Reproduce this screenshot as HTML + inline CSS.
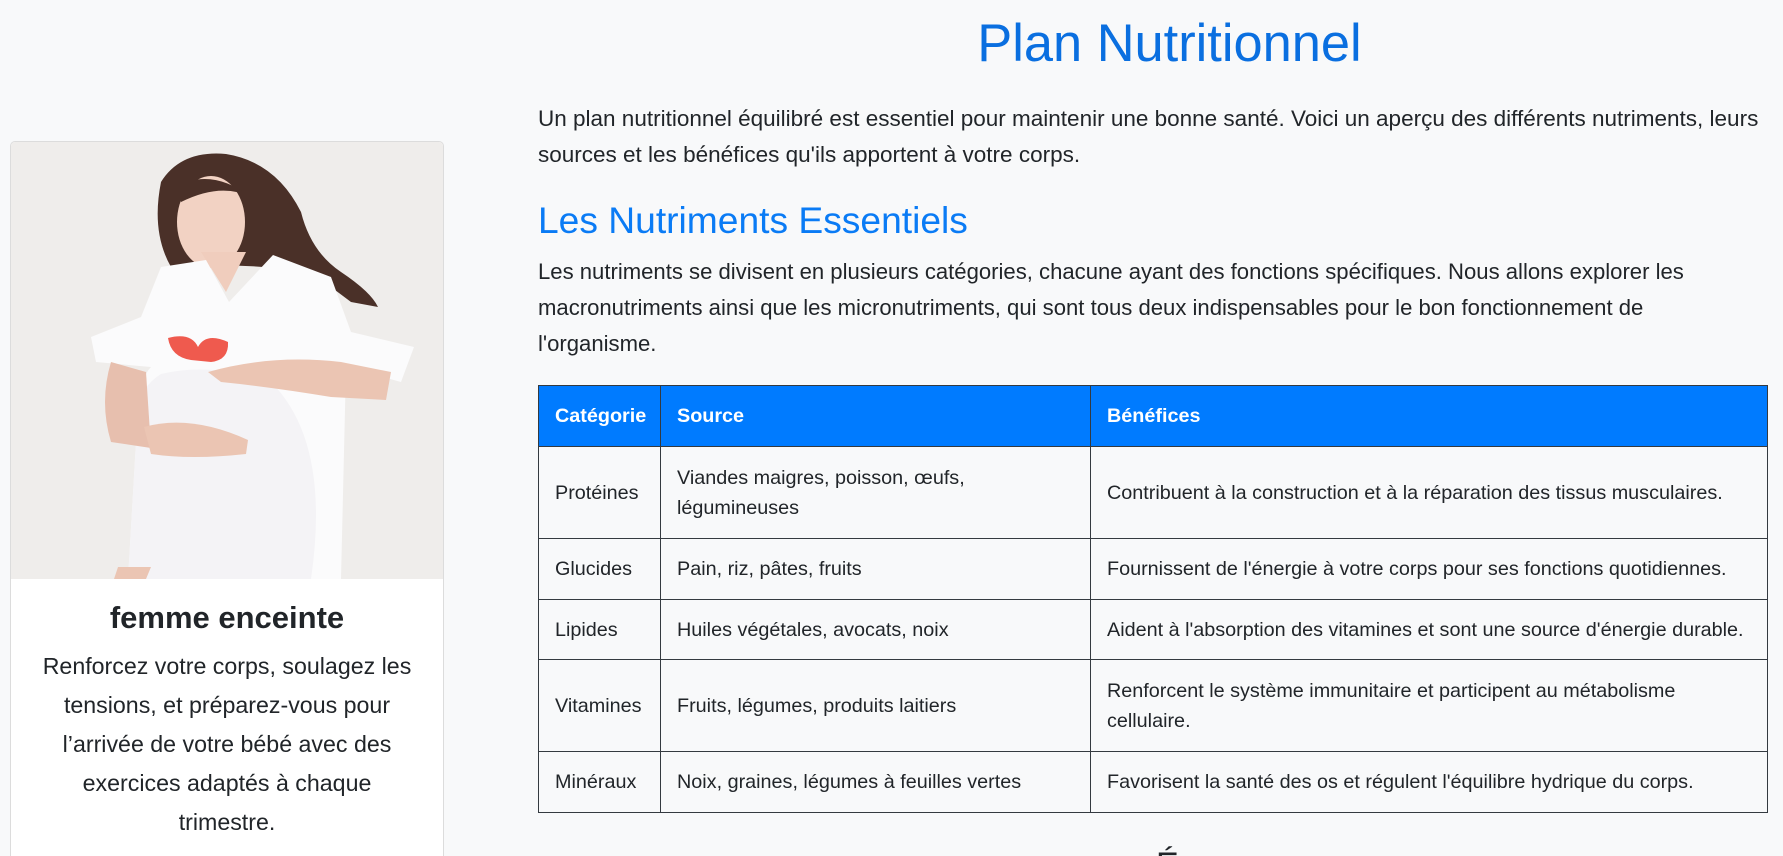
<!DOCTYPE html>
<html><head><meta charset="utf-8">
<style>
html,body{margin:0;padding:0;background:#f8f9fa;width:1783px;height:856px;overflow:hidden;font-family:"Liberation Sans",sans-serif;color:#212529}
#root{position:relative;width:1783px;height:856px;overflow:hidden}
.abs{position:absolute;white-space:nowrap}
h1{position:absolute;margin:0;left:0;width:1783px;top:14px;padding-left:556px;box-sizing:border-box;text-align:center;font-size:52.4px;font-weight:normal;color:#0a6fe0;line-height:60px}
.p{line-height:36px;left:538px}
h2{position:absolute;margin:0;left:538px;top:199px;font-size:37.2px;font-weight:normal;color:#0a7bf5;line-height:42px}
.card{position:absolute;left:10px;top:141px;width:432px;height:730px;background:#fff;border:1px solid #dcdcdc;border-radius:5px;overflow:hidden}
.card .t{position:absolute;left:0;width:432px;text-align:center;white-space:nowrap}
table{position:absolute;left:538px;top:385px;width:1230px;border-collapse:collapse;font-size:19.8px}
td,th{border:1.5px solid #343a40;padding:0 0 0 16px;text-align:left;vertical-align:middle;line-height:30px;white-space:nowrap}
th{background:#007bff;color:#fff;font-weight:bold}
</style></head><body>
<div id="root">
<h1>Plan Nutritionnel</h1>
<div class="abs p" style="top:101px;font-size:22.5px">Un plan nutritionnel équilibré est essentiel pour maintenir une bonne santé. Voici un aperçu des différents nutriments, leurs<br>sources et les bénéfices qu'ils apportent à votre corps.</div>
<h2>Les Nutriments Essentiels</h2>
<div class="abs p" style="top:254px;font-size:22.1px">Les nutriments se divisent en plusieurs catégories, chacune ayant des fonctions spécifiques. Nous allons explorer les<br>macronutriments ainsi que les micronutriments, qui sont tous deux indispensables pour le bon fonctionnement de<br>l'organisme.</div>

<div class="card">
<svg width="432" height="437" viewBox="0 0 432 437">
<rect width="432" height="437" fill="#efedeb"/>
<path d="M150 40 Q170 8 215 12 Q265 20 290 70 Q300 110 330 130 Q360 150 367 165 L340 160 L300 130 Q230 120 160 125 Q140 90 150 40Z" fill="#4a3028"/>
<ellipse cx="200" cy="80" rx="34" ry="46" fill="#f2d2c3"/>
<path d="M165 45 Q200 25 240 55 Q210 40 170 60Z" fill="#4a3028"/>
<path d="M190 110 L235 110 L215 150 Z" fill="#f0cdbd"/>
<path d="M150 125 L195 118 L218 160 L262 113 L320 135 L340 190 L403 205 L390 240 L335 225 L330 437 L117 437 L125 300 Q125 240 140 225 L85 220 L80 195 L130 175 Z" fill="#fbfbfc"/>
<path d="M117 437 L125 300 Q120 250 150 232 Q200 220 260 240 Q320 300 300 437Z" fill="#f4f3f6"/>
<path d="M100 220 Q88 260 100 300 L140 306 L135 230 Z" fill="#e7bfae"/>
<path d="M197 230 Q260 212 330 220 L380 230 L375 258 L320 255 Q260 245 210 240 Z" fill="#ebc5b3"/>
<path d="M133 285 Q180 272 237 298 L235 312 Q180 318 140 312 Z" fill="#ebc5b3"/>
<path d="M157 196 Q180 190 187 205 Q195 190 217 200 Q218 218 200 220 L180 218 Q160 215 157 196Z" fill="#ef5a4e"/>
<path d="M107 425 L140 425 L135 437 L103 437Z" fill="#ebc5b3"/>
</svg>
<div class="t" style="top:456px;font-size:31px;font-weight:bold;line-height:40px">femme enceinte</div>
<div class="t" style="top:505px;font-size:23.2px;line-height:39px">Renforcez votre corps, soulagez les<br>tensions, et préparez-vous pour<br>l’arrivée de votre bébé avec des<br>exercices adaptés à chaque<br>trimestre.</div>
</div>

<table>
<colgroup><col style="width:122px"><col style="width:430px"><col></colgroup>
<tr style="height:61px"><th>Catégorie</th><th>Source</th><th>Bénéfices</th></tr>
<tr style="height:92px"><td>Protéines</td><td>Viandes maigres, poisson, œufs,<br>légumineuses</td><td>Contribuent à la construction et à la réparation des tissus musculaires.</td></tr>
<tr style="height:61px"><td>Glucides</td><td>Pain, riz, pâtes, fruits</td><td>Fournissent de l'énergie à votre corps pour ses fonctions quotidiennes.</td></tr>
<tr style="height:60px"><td>Lipides</td><td>Huiles végétales, avocats, noix</td><td>Aident à l'absorption des vitamines et sont une source d'énergie durable.</td></tr>
<tr style="height:92px"><td>Vitamines</td><td>Fruits, légumes, produits laitiers</td><td>Renforcent le système immunitaire et participent au métabolisme<br>cellulaire.</td></tr>
<tr style="height:61px"><td>Minéraux</td><td>Noix, graines, légumes à feuilles vertes</td><td>Favorisent la santé des os et régulent l'équilibre hydrique du corps.</td></tr>
</table>
<div class="abs" style="left:1156px;top:846px;font-size:34px;color:#212529">É</div>
</div>
</body></html>
